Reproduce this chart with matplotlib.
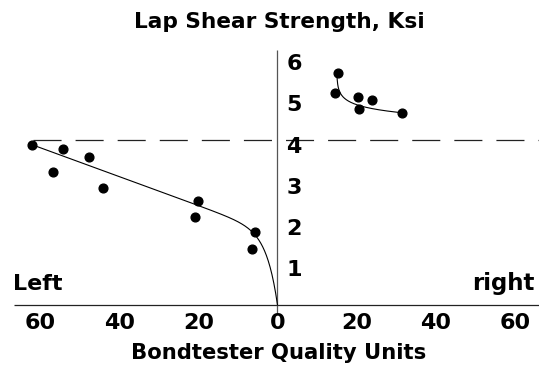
import numpy as np
import matplotlib
matplotlib.use("Agg")
import matplotlib.pyplot as plt

# Lap shear strength (ksi) against bondtester quality units, left and right probe
left_units = [62, 56.8, 54.1, 47.5, 44.1, 20.0, 20.8, 5.7, 6.5]
left_strength = [3.88, 3.22, 3.78, 3.60, 2.84, 2.53, 2.14, 1.78, 1.35]
right_units = [15.2, 14.5, 20.4, 23.8, 20.7, 31.5]
right_strength = [5.63, 5.15, 5.04, 4.97, 4.74, 4.65]

# trend curves: left  y = A*(1-exp(-u/k)) + B*u ; right y = c - m*ln(u - u0)
left_fit = dict(A=1.71, k=2.71, B=0.0351)
right_fit = dict(c=5.123, m=0.165, u0=14.95)

reference_strength = 4.0
x_ticks = [-60, -40, -20, 0, 20, 40, 60]
y_ticks = [1, 2, 3, 4, 5, 6]

W, H, DPI = 539, 381, 100
fig = plt.figure(figsize=(W / DPI, H / DPI), dpi=DPI)
ax = fig.add_axes([0, 0, 1, 1])
ax.set_xlim(-70.08, 66.04)
ax.set_ylim(-1.842, 7.394)
ax.axis("off")

FONT = dict(family="DejaVu Sans", weight="bold", color="black")
TICK_SIZE = 16

# axes through the origin
ax.plot([-66.6, 66.04], [0, 0], color="#222222", lw=0.9, solid_capstyle="butt")
ax.plot([0, 0], [-0.19, 6.18], color="#555555", lw=0.9, solid_capstyle="butt")

# reference level
lw = 0.9
ax.plot([-61.7, 66.04], [reference_strength] * 2, color="#222222", lw=lw,
        linestyle=(0, (20.2 / lw, 10.1 / lw)))

# left-hand trend curve
u = np.linspace(0, max(left_units), 400)
yl = left_fit["A"] * (1 - np.exp(-u / left_fit["k"])) + left_fit["B"] * u
ax.plot(-u, yl, color="black", lw=0.8)

# right-hand trend curve
ur = np.linspace(right_fit["u0"] + 0.04, max(right_units), 400)
yr = right_fit["c"] - right_fit["m"] * np.log(ur - right_fit["u0"])
ax.plot(ur, yr, color="black", lw=0.8)

# data points
ax.plot(-np.array(left_units), left_strength, "o", color="black", ms=6.3)
ax.plot(right_units, right_strength, "o", color="black", ms=6.3)

# tick labels
for t in x_ticks:
    ax.text(t, -0.582, str(abs(t)), ha="center", va="baseline", fontsize=TICK_SIZE, **FONT)
for t in y_ticks:
    ax.text(4.17, t - 12.5 / 41.25, str(t), ha="center", va="baseline",
            fontsize=TICK_SIZE, **FONT)

ax.text(-60.6, (305 - 290) / 41.25, "Left", ha="center", va="baseline",
        fontsize=TICK_SIZE, **FONT)
ax.text(57.0, (305 - 290) / 41.25, "right", ha="center", va="baseline",
        fontsize=TICK_SIZE + 0.5, **FONT)

fig.text(279 / W, 1 - 28 / H, "Lap Shear Strength, Ksi", ha="center", va="baseline",
         fontsize=15.6, **FONT)
fig.text(279 / W, 1 - 359 / H, "Bondtester Quality Units", ha="center", va="baseline",
         fontsize=15.2, **FONT)

fig.savefig("out.png", dpi=DPI, facecolor="white")
